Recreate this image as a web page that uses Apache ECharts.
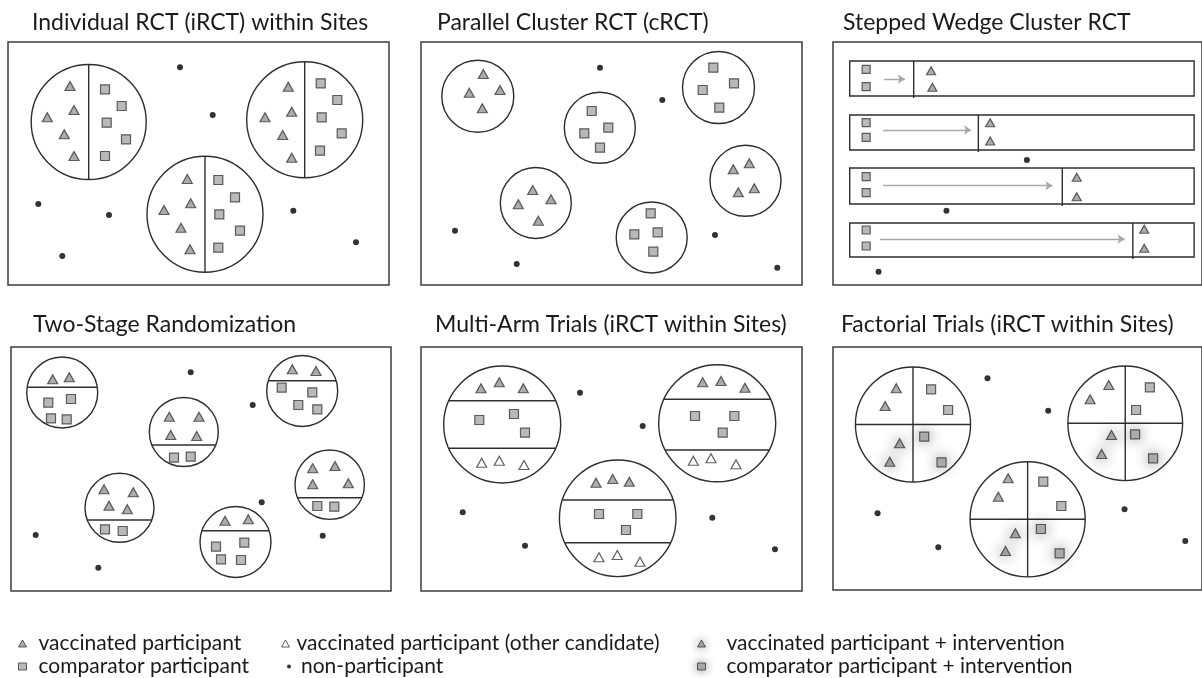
<!DOCTYPE html>
<html>
<head>
<meta charset="utf-8">
<title>Vaccine trial designs</title>
<script src="https://cdn.jsdelivr.net/npm/echarts@6/dist/echarts.min.js"></script>
<style>
  html, body { margin: 0; padding: 0; background: #fff; }
  #chart { width: 1202px; height: 678px; }
</style>
</head>
<body>
<div id="chart"></div>
<script>
/* Six trial-design sketches. Every mark is given in sketch units,
 * one unit per pixel of the original figure; each panel's axes span its own box. */

var panelTitles = [
    'Individual RCT (iRCT) within Sites',
    'Parallel Cluster RCT (cRCT)',
    'Stepped Wedge Cluster RCT',
    'Two-Stage Randomization',
    'Multi-Arm Trials (iRCT within Sites)',
    'Factorial Trials (iRCT within Sites)'
];

var legendNames = [
    'vaccinated participant',
    'comparator participant',
    'vaccinated participant (other candidate)',
    'non-participant',
    'vaccinated participant + intervention',
    'comparator participant + intervention'
];

// panel 1 - sites [x, y, radius], split in two arms
var p1Sites = [[88.7, 122, 57.5], [304.7, 119.7, 58], [205, 214.3, 58]];
var p1Vaccinated = [[70, 86], [74, 110], [47.3, 117.3], [64.3, 134.3], [74, 156],
    [288.3, 86.7], [291.7, 111.7], [265, 117.3], [282.7, 135], [291.7, 157.7],
    [187.3, 179], [190.7, 203.3], [164, 210], [181, 227.7], [190, 249.3]];
var p1Comparator = [[105, 89.3], [121.7, 106], [106.7, 122.7], [126, 139.3], [105, 156],
    [320.7, 83.3], [337.3, 100], [321.7, 117.3], [341.7, 133.3], [320, 150.7],
    [218.3, 180], [235, 197.3], [219.3, 214.3], [240, 230.7], [218.3, 247.7]];
var p1Others = [[180, 67.3], [212.7, 115], [38.3, 204], [109, 215], [62.3, 256], [293.3, 210.7], [356, 242.3]];

// panel 2 - whole clusters
var p2Sites = [[477.8, 96.2, 36], [599.8, 127.8, 35.5], [718.5, 87.5, 36],
    [745.5, 180.8, 35.5], [535.8, 203, 35.5], [651.7, 237.5, 35.5]];
var p2Vaccinated = [[483.3, 74], [469.3, 92.7], [500, 90], [482.3, 108.3],
    [733.3, 169.3], [749.3, 163.3], [738.3, 192.3], [754.3, 188.3],
    [532.7, 190], [518.3, 204.3], [551, 199.3], [538.3, 220.7]];
var p2Comparator = [[591.7, 111], [608.3, 127.7], [584.3, 133.3], [600, 147.7],
    [713.3, 67.7], [734, 83.3], [702.7, 90], [719.3, 107.7],
    [650.7, 213.3], [634.3, 234.3], [657.7, 232.3], [653.3, 251.7]];
var p2Others = [[600, 67.7], [662.3, 100], [455, 230.7], [516.7, 264], [715, 235], [777.3, 267.7]];

// panel 3 - clusters [x0, y0, x1, y1, switch-over x], arrows [from, to, y]
var p3Clusters = [[850, 61, 1200, 96, 915], [850, 115, 1200, 150, 980.7],
    [850, 168, 1200, 204, 1066], [850, 223, 1200, 257, 1137.7]];
var p3Arrows = [[885, 906, 79], [884, 973.3, 130], [884, 1056, 185.7], [880.7, 1129.3, 239]];
var p3Comparator = [[866.7, 69.3], [866.7, 86.7], [866.7, 122.7], [866.7, 137.3],
    [866.7, 176.7], [866.7, 192.7], [866.7, 230], [866.7, 246]];
var p3Vaccinated = [[932.7, 70.7], [934, 87.3], [992.7, 122.7], [992.7, 141],
    [1080.7, 177.3], [1080.7, 196.7], [1149.3, 229.3], [1149.3, 248.3]];
var p3Others = [[1030, 160], [948.3, 210.7], [879.3, 271.7]];

// panel 4 - sites [x, y, radius, divider y]
var p4Sites = [[62.2, 392.5, 35.5, 387.3], [183.8, 432, 34.5, 445], [302.2, 391, 35.5, 380.7],
    [329.7, 484.7, 34.7, 497.7], [119.5, 507.8, 34.5, 520], [235.5, 542, 35.5, 530.7]];
var p4Vaccinated = [[52.7, 379.3], [69.3, 377.3], [169.3, 416.7], [199, 416.7], [170.7, 435], [196.7, 436],
    [292.3, 369.3], [316, 371], [312.7, 468.3], [335, 466], [312.7, 484.3], [348.3, 483.3],
    [104, 489.3], [133.3, 492.3], [109, 505.7], [127.3, 509.3], [225, 520.7], [248.3, 519.3]];
var p4Comparator = [[48.3, 402.7], [71, 399], [51, 418.3], [66.7, 419.3], [174, 457.7], [190.7, 456.7],
    [281.7, 387.7], [312.3, 392.3], [298.3, 405], [317.3, 409.3], [317.3, 506], [334.3, 506.7],
    [105, 529.3], [122.7, 531], [216, 546.7], [244.3, 542.7], [221, 559.3], [241, 560]];
var p4Others = [[190.7, 372.3], [252.7, 405], [35.7, 535], [98.3, 567.7], [261.7, 502.3], [322.7, 535.7]];

// panel 5 - sites [x, y, radius, divider y, divider y]
var p5Sites = [[502.2, 424.5, 58.5, 400.7, 448.3], [717.2, 423.3, 58.5, 399.3, 450], [617.7, 518.3, 58.3, 500, 542.7]];
var p5Vaccinated = [[481, 388.3], [499.3, 382.3], [523.3, 388.3], [702.7, 382.3], [721, 381], [745, 387.7],
    [596, 482.7], [612.7, 479], [629.3, 481.7]];
var p5Comparator = [[479.3, 420], [514, 414], [525, 432.7], [695, 416], [734.3, 416], [722.7, 432.7],
    [599, 514], [637.3, 514], [626, 530]];
var p5OtherCandidate = [[481.7, 462.7], [499.3, 460.7], [524, 465], [693.3, 460.7], [711, 458.3], [736, 464.3],
    [599, 557.3], [617.3, 555], [640, 561.7]];
var p5Others = [[580, 392.7], [642.7, 426], [462.7, 512.3], [525, 545.7], [712.3, 517.7], [775, 549.3]];

// panel 6 - sites [x, y, radius], quartered
var p6Sites = [[914.3, 424.5, 58.5], [1130, 423.3, 58.3], [1030.8, 519.3, 58.5]];
var p6Vaccinated = [[897.3, 388.3], [886, 406], [1113.3, 385], [1094.3, 399.3], [1011, 478.3], [1001, 496.7]];
var p6Comparator = [[932.7, 389.3], [950, 410], [1155, 387.3], [1141, 410], [1046.7, 481.7], [1065, 506]];
var p6VaccinatedPlus = [[900.7, 443.3], [890.7, 461.7], [1116, 435], [1106, 454], [1018.3, 533.3], [1008.3, 551]];
var p6ComparatorPlus = [[925.7, 436.7], [943.3, 462.3], [1140, 434.3], [1158.3, 458.3], [1044.3, 529], [1063.3, 553.3]];
var p6Others = [[990, 378.3], [1051.7, 410.7], [878.3, 513.3], [940, 547.3], [1129.3, 509.3], [1191, 541]];

// layout: panel boxes [left, top, right, bottom] and title anchors
var boxes = [[8, 42, 389, 285], [421, 42, 802, 285], [833, 42, 1208, 285],
             [11, 347, 391, 591], [421, 347, 802, 591], [833, 347, 1208, 590]];
var titleAnchors = [[32, 11], [437, 11], [843, 11], [33, 313], [435, 313], [841, 313]];

var FONT = 'Lato';
var INK = '#3a3a3a';
var OUTLINE = '#2e2e2e';

var chart = echarts.init(document.getElementById('chart'), null, { renderer: 'canvas' });

function line(x1, y1, x2, y2) {
    return {
        type: 'line',
        shape: { x1: x1, y1: y1, x2: x2, y2: y2 },
        style: { stroke: OUTLINE, lineWidth: 1.4 }
    };
}

function siteRenderer(kind) {
    return function (params, api) {
        var c = api.coord([api.value(0), api.value(1)]);
        var r = api.size([api.value(2), 0])[0];
        var children = [{
            type: 'circle',
            shape: { cx: c[0], cy: c[1], r: r },
            style: { fill: '#fff', stroke: OUTLINE, lineWidth: 1.4 }
        }];

        function chord(yv) {
            var y = api.coord([api.value(0), yv])[1];
            var dy = y - c[1];
            var h = Math.sqrt(Math.max(r * r - dy * dy, 0));
            children.push(line(c[0] - h, y, c[0] + h, y));
        }

        if (kind === 'split' || kind === 'quarter') {
            children.push(line(c[0], c[1] - r, c[0], c[1] + r));
        }
        if (kind === 'quarter') {
            children.push(line(c[0] - r, c[1], c[0] + r, c[1]));
        }
        if (kind === 'stage') {
            chord(api.value(3));
        }
        if (kind === 'arms') {
            chord(api.value(3));
            chord(api.value(4));
        }
        return { type: 'group', children: children };
    };
}

function renderCluster(params, api) {
    var a = api.coord([api.value(0), api.value(1)]);
    var b = api.coord([api.value(2), api.value(3)]);
    var s = api.coord([api.value(4), api.value(1)])[0];
    return {
        type: 'group',
        children: [{
            type: 'rect',
            shape: { x: a[0], y: a[1], width: b[0] - a[0], height: b[1] - a[1] },
            style: { fill: '#fff', stroke: OUTLINE, lineWidth: 1.4 }
        }, line(s, a[1], s, b[1] + 2)]
    };
}

var markStyles = {
    'vaccinated participant': {
        symbol: 'triangle', symbolSize: [10, 9],
        itemStyle: { color: '#979797', borderColor: INK, borderWidth: 1.2 }
    },
    'comparator participant': {
        symbol: 'rect', symbolSize: 9,
        itemStyle: { color: '#a8a8a8', borderColor: INK, borderWidth: 1.2 }
    },
    'vaccinated participant (other candidate)': {
        symbol: 'triangle', symbolSize: [10, 9],
        itemStyle: { color: '#fff', borderColor: INK, borderWidth: 1.2 }
    },
    'non-participant': {
        symbol: 'circle', symbolSize: 6,
        itemStyle: { color: '#000' }
    },
    'vaccinated participant + intervention': {
        symbol: 'triangle', symbolSize: [10, 9],
        itemStyle: { color: '#979797', borderColor: INK, borderWidth: 1.2, shadowBlur: 14, shadowColor: 'rgba(0,0,0,0.55)' }
    },
    'comparator participant + intervention': {
        symbol: 'rect', symbolSize: 9,
        itemStyle: { color: '#a8a8a8', borderColor: INK, borderWidth: 1.2, shadowBlur: 14, shadowColor: 'rgba(0,0,0,0.55)' }
    }
};

function marks(name, panel, data, size) {
    var st = markStyles[name];
    return {
        type: 'scatter',
        name: name,
        xAxisIndex: panel,
        yAxisIndex: panel,
        data: data,
        symbol: st.symbol,
        symbolSize: size || st.symbolSize,
        itemStyle: st.itemStyle,
        silent: true,
        z: 4
    };
}

function sites(panel, data, kind) {
    return {
        type: 'custom',
        xAxisIndex: panel,
        yAxisIndex: panel,
        data: data,
        renderItem: siteRenderer(kind),
        silent: true,
        z: 2
    };
}

var series = [
    sites(0, p1Sites, 'split'),
    marks(legendNames[0], 0, p1Vaccinated),
    marks(legendNames[1], 0, p1Comparator),
    marks(legendNames[3], 0, p1Others),

    sites(1, p2Sites, 'plain'),
    marks(legendNames[0], 1, p2Vaccinated),
    marks(legendNames[1], 1, p2Comparator),
    marks(legendNames[3], 1, p2Others),

    {
        type: 'custom',
        xAxisIndex: 2,
        yAxisIndex: 2,
        data: p3Clusters,
        renderItem: renderCluster,
        silent: true,
        z: 2
    },
    {
        type: 'lines',
        coordinateSystem: 'cartesian2d',
        xAxisIndex: 2,
        yAxisIndex: 2,
        data: p3Arrows.map(function (a) {
            return { coords: [[a[0], a[2]], [a[1], a[2]]] };
        }),
        symbol: ['none', 'arrow'],
        symbolSize: 7,
        lineStyle: { color: '#a6a6a6', width: 1.3, opacity: 1 },
        silent: true,
        z: 3
    },
    marks(legendNames[1], 2, p3Comparator, 8),
    marks(legendNames[0], 2, p3Vaccinated, [9, 8]),
    marks(legendNames[3], 2, p3Others),

    sites(3, p4Sites, 'stage'),
    marks(legendNames[0], 3, p4Vaccinated),
    marks(legendNames[1], 3, p4Comparator),
    marks(legendNames[3], 3, p4Others),

    sites(4, p5Sites, 'arms'),
    marks(legendNames[0], 4, p5Vaccinated),
    marks(legendNames[1], 4, p5Comparator),
    marks(legendNames[2], 4, p5OtherCandidate),
    marks(legendNames[3], 4, p5Others),

    sites(5, p6Sites, 'quarter'),
    marks(legendNames[4], 5, p6VaccinatedPlus),
    marks(legendNames[5], 5, p6ComparatorPlus),
    marks(legendNames[0], 5, p6Vaccinated),
    marks(legendNames[1], 5, p6Comparator),
    marks(legendNames[3], 5, p6Others)
];

var grids = [], xAxes = [], yAxes = [];
boxes.forEach(function (b, i) {
    grids.push({
        left: b[0], top: b[1], width: b[2] - b[0], height: b[3] - b[1],
        show: true, backgroundColor: '#fff', borderColor: '#3c3c3c', borderWidth: 1.5
    });
    xAxes.push({ gridIndex: i, type: 'value', min: b[0], max: b[2], show: false });
    yAxes.push({ gridIndex: i, type: 'value', min: b[1], max: b[3], inverse: true, show: false });
});

var titles = panelTitles.map(function (t, i) {
    return {
        text: t,
        left: titleAnchors[i][0],
        top: titleAnchors[i][1],
        padding: 0,
        textStyle: { fontFamily: FONT, fontSize: 23, fontWeight: 'normal', color: '#1a1a1a' }
    };
});

// legend: one component per entry, three columns of two rows
var legendSlots = [
    { left: 18, top: 633, w: 8, h: 7, gap: 7 },
    { left: 18, top: 656, w: 8, h: 7, gap: 7 },
    { left: 281, top: 633, w: 8, h: 7, gap: 2 },
    { left: 287, top: 656, w: 4, h: 4, gap: 5 },
    { left: 697, top: 633, w: 8, h: 7, gap: 16 },
    { left: 697, top: 656, w: 8, h: 7, gap: 16 }
];
var legends = legendNames.map(function (n, i) {
    var s = legendSlots[i];
    var st = markStyles[n].itemStyle;
    return {
        data: [n],
        left: s.left,
        top: s.top,
        padding: 0,
        itemWidth: s.w,
        itemHeight: s.h,
        selectedMode: false,
        itemStyle: {
            color: st.color,
            borderColor: st.borderColor || st.color,
            borderWidth: st.borderWidth ? 1 : 0,
            shadowBlur: st.shadowBlur ? 10 : 0,
            shadowColor: st.shadowColor || 'transparent'
        },
        formatter: function (name) { return '{t|' + name + '}'; },
        textStyle: {
            rich: { t: { fontFamily: FONT, fontSize: 21, color: '#1a1a1a', padding: [0, 0, 0, s.gap] } }
        }
    };
});

chart.setOption({
    animation: false,
    backgroundColor: '#fff',
    title: titles,
    legend: legends,
    grid: grids,
    xAxis: xAxes,
    yAxis: yAxes,
    series: series
});

window.addEventListener('resize', function () {
    chart.resize();
});
</script>
</body>
</html>
